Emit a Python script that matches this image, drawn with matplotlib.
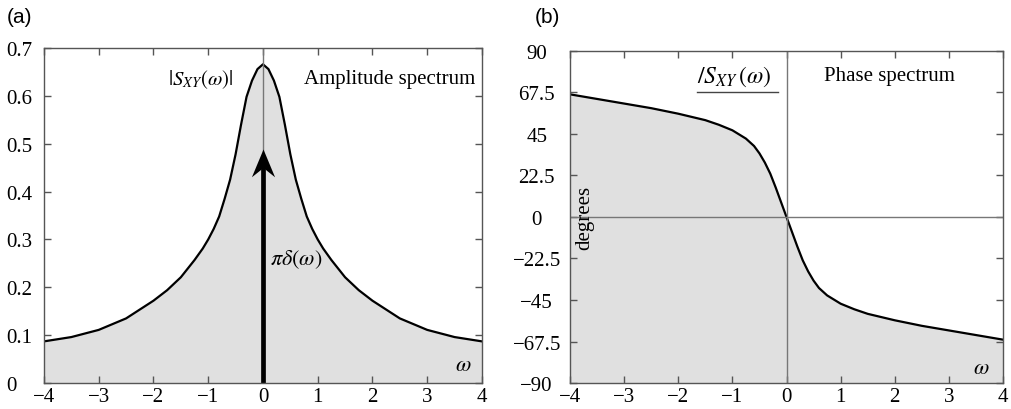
import numpy as np
import matplotlib.pyplot as plt
from matplotlib.lines import Line2D
from matplotlib.path import Path

plt.rcParams["font.family"] = ["Liberation Serif", "DejaVu Serif"]
plt.rcParams["mathtext.fontset"] = "stix"

# ---- data ----
amp_omega = [-4.0, -3.5, -3.0, -2.5, -2.0, -1.75, -1.5, -1.25, -1.1, -1.0, -0.9, -0.8,
             -0.7, -0.6, -0.5, -0.4, -0.3, -0.2, -0.1, 0.0, 0.1, 0.2, 0.3, 0.4, 0.5,
             0.6, 0.7, 0.8, 0.9, 1.0, 1.1, 1.25, 1.5, 1.75, 2.0, 2.5, 3.0, 3.5, 4.0]
amp_values = [0.087, 0.096, 0.111, 0.135, 0.172, 0.194, 0.221, 0.257, 0.281, 0.300,
              0.322, 0.348, 0.385, 0.425, 0.478, 0.540, 0.598, 0.632, 0.656, 0.666,
              0.656, 0.632, 0.598, 0.540, 0.478, 0.425, 0.385, 0.348, 0.322, 0.300,
              0.281, 0.257, 0.221, 0.194, 0.172, 0.135, 0.111, 0.096, 0.087]
delta_height = 0.49

phase_omega = [-4.0, -3.5, -3.0, -2.5, -2.0, -1.5, -1.25, -1.0, -0.75, -0.6, -0.5, -0.4,
               -0.3, -0.2, -0.1, 0.0, 0.1, 0.2, 0.3, 0.4, 0.5, 0.6, 0.75, 1.0, 1.25,
               1.5, 2.0, 2.5, 3.0, 3.5, 4.0]
phase_deg = [66.5, 64.0, 61.5, 59.0, 56.0, 52.5, 50.0, 47.0, 42.5, 38.5, 34.5, 29.5,
             23.5, 16.0, 8.0, 0.0, -8.0, -16.0, -23.5, -29.5, -34.5, -38.5, -42.5,
             -47.0, -50.0, -52.5, -56.0, -59.0, -61.5, -64.0, -66.5]

x_ticks = [-4, -3, -2, -1, 0, 1, 2, 3, 4]
x_ticklabels = ["\u22124", "\u22123", "\u22122", "\u22121", "0", "1", "2", "3", "4"]
amp_ticks = [0, 0.1, 0.2, 0.3, 0.4, 0.5, 0.6, 0.7]
amp_ticklabels = ["0", "0.1", "0.2", "0.3", "0.4", "0.5", "0.6", "0.7"]
phase_ticks = [-90, -67.5, -45, -22.5, 0, 22.5, 45, 67.5, 90]
phase_ticklabels = ["\u221290", "\u221267.5", "\u221245", "\u221222.5", "0",
                    "22.5", "45", "67.5", "90"]

FILL = "#e0e0e0"
SPINE = "#555555"
FS = 15

# barbed (stealth) arrow head, tip at the origin of the marker
HEAD = Path([(0, 0), (-0.5, -1.2), (0, -0.8), (0.5, -1.2), (0, 0)],
            [Path.MOVETO, Path.LINETO, Path.LINETO, Path.LINETO, Path.CLOSEPOLY])

fig = plt.figure(figsize=(10.11, 4.10), dpi=100)
ax1 = fig.add_axes([0.0435, 0.0634, 0.4332, 0.817])
ax2 = fig.add_axes([0.5638, 0.0634, 0.4283, 0.8098])


def style_axes(ax):
    for s in ax.spines.values():
        s.set_color(SPINE)
        s.set_linewidth(1.0)
    ax.tick_params(direction="in", length=5, width=1, color=SPINE,
                   top=True, right=True, labelsize=FS)
    ax.tick_params(axis="x", pad=3)
    ax.set_xlim(-4, 4)
    ax.set_xticks(x_ticks)
    ax.set_xticklabels(x_ticklabels)


# ---- (a) amplitude spectrum ----
style_axes(ax1)
ax1.fill_between(amp_omega, amp_values, 0, color=FILL, lw=0)
ax1.plot(amp_omega, amp_values, color="black", lw=1.6)
ax1.axvline(0, color="#777777", lw=1.0)
ax1.plot([0, 0], [0, delta_height - 0.03], color="black", lw=3.4, solid_capstyle="butt")
ax1.plot([0], [delta_height], marker=HEAD, markersize=40, color="black", mew=0)
ax1.set_ylim(0, 0.7)
ax1.set_yticks(amp_ticks)
ax1.set_yticklabels(amp_ticklabels)
ax1.tick_params(axis="y", pad=27)
plt.setp(ax1.get_yticklabels(), ha="left")
ax1.text(-1.13, 0.636, r"$|S_{XY}(\omega)|$", fontsize=FS, ha="center", va="center")
ax1.text(3.87, 0.636, "Amplitude spectrum", fontsize=FS, ha="right", va="center")
ax1.text(0.12, 0.26, r"$\pi\delta(\omega)$", fontsize=16, ha="left", va="center")
ax1.text(3.65, 0.036, r"$\omega$", fontsize=16, ha="center", va="center")
fig.text(0.007, 0.958, "(a)", fontsize=FS, family="Liberation Sans", ha="left", va="center")

# ---- (b) phase spectrum ----
style_axes(ax2)
ax2.fill_between(phase_omega, phase_deg, -90, color=FILL, lw=0)
ax2.plot(phase_omega, phase_deg, color="black", lw=1.6)
ax2.axvline(0, color="#777777", lw=1.0)
ax2.axhline(0, color="#777777", lw=1.0)
ax2.set_ylim(-90, 90)
ax2.set_yticks(phase_ticks)
ax2.set_yticklabels(phase_ticklabels)
ax2.tick_params(axis="y", pad=24)
plt.setp(ax2.get_yticklabels(), ha="center")
ax2.text(-3.72, 0, "degrees", fontsize=FS, rotation=90, ha="center", va="center")
ax2.text(-1.66, 76.5, r"$/S_{XY}\,(\omega)$", fontsize=17, ha="left", va="center")
ax2.add_line(Line2D([-1.66, -0.15], [68.0, 68.0], color="#444444", lw=1.0))
ax2.text(1.9, 76.8, "Phase spectrum", fontsize=FS, ha="center", va="center")
ax2.text(3.6, -82, r"$\omega$", fontsize=16, ha="center", va="center")
fig.text(0.529, 0.958, "(b)", fontsize=FS, family="Liberation Sans", ha="left", va="center")

fig.savefig("out.png", dpi=100)
